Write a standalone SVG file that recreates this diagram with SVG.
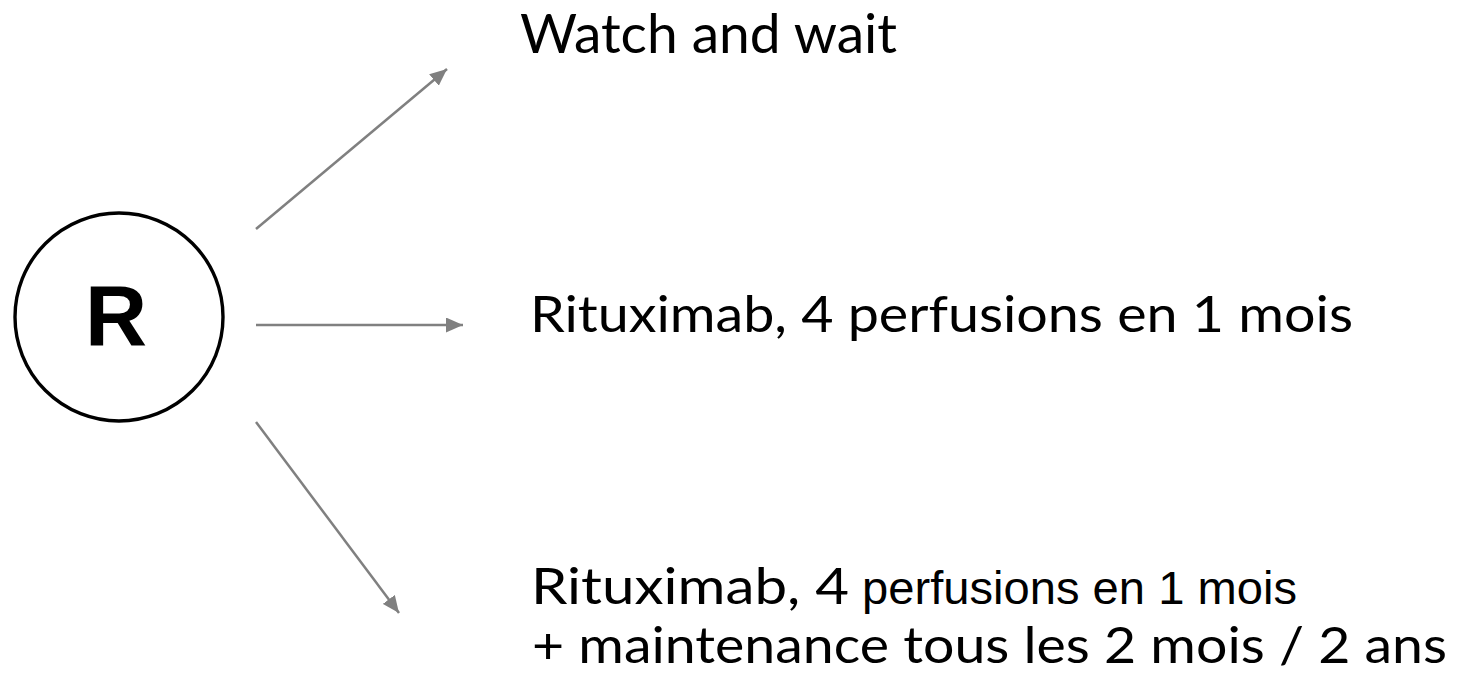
<svg xmlns="http://www.w3.org/2000/svg" width="1457" height="675" viewBox="0 0 1457 675">
  <defs>
    <marker id="arrow" markerUnits="userSpaceOnUse" markerWidth="17" markerHeight="15" refX="17" refY="7.5" orient="auto">
      <path d="M0,0 L17,7.5 L0,15 z" fill="#808080"/>
    </marker>
    <style>
      .conn { stroke: #808080; stroke-width: 2.5; fill: none; marker-end: url(#arrow); }
      .hand { font-family: Lato, "DejaVu Sans", sans-serif; fill: #000; }
      .plain { font-family: "Liberation Sans", Arial, sans-serif; fill: #000; }
    </style>
  </defs>
  <rect width="1457" height="675" fill="#ffffff"/>

  <g id="node-R">
    <circle cx="119" cy="317" r="104" fill="#ffffff" stroke="#000" stroke-width="3.4"/>
    <text x="116" y="345" text-anchor="middle" font-family="Liberation Sans, Arial, sans-serif" font-weight="bold" font-size="86">R</text>
  </g>

  <g id="connectors">
    <line class="conn" x1="256" y1="229" x2="447" y2="69"/>
    <line class="conn" x1="256" y1="325" x2="463" y2="325"/>
    <line class="conn" x1="256" y1="422" x2="399" y2="613"/>
  </g>

  <g id="node-watch">
    <text class="hand" x="520" y="53" font-size="55" textLength="377" lengthAdjust="spacingAndGlyphs">Watch and wait</text>
  </g>

  <g id="node-rituximab">
    <text class="hand" x="530" y="332" font-size="51" textLength="823" lengthAdjust="spacingAndGlyphs">Rituximab, 4 perfusions en 1 mois</text>
  </g>

  <g id="node-maintenance">
    <text class="hand" x="531" y="604" font-size="51" textLength="318" lengthAdjust="spacingAndGlyphs">Rituximab, 4</text>
    <text class="plain" x="862" y="604" font-size="46" textLength="435" lengthAdjust="spacingAndGlyphs">perfusions en 1 mois</text>
    <text class="hand" x="532" y="663" font-size="51" textLength="915" lengthAdjust="spacingAndGlyphs">+ maintenance tous les 2 mois / 2 ans</text>
  </g>
</svg>
